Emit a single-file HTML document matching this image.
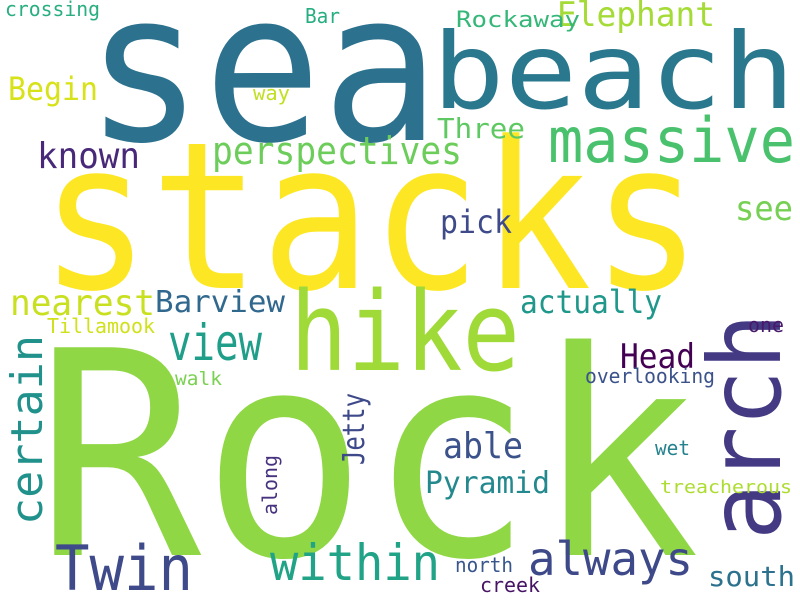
<!DOCTYPE html>
<html>
<head>
<meta charset="utf-8">
<style>
html,body{margin:0;padding:0;background:#fff;}
svg{display:block;}
text{font-family:"DejaVu Sans Mono","Liberation Mono",monospace;}
</style>
</head>
<body>
<svg id="cloud" width="800" height="600" viewBox="0 0 800 600" xmlns="http://www.w3.org/2000/svg">
<rect width="800" height="600" fill="#ffffff"/>
</svg>
<script>
const words = ["sea","stacks","Rock","beach","arch","hike","massive","Elephant","Rockaway","Bar","crossing","Begin","Three","known","perspectives","way","see","pick","nearest","Barview","actually","view","certain","Tillamook","one","Head","walk","overlooking","Jetty","able","wet","along","Pyramid","treacherous","Twin","within","always","north","creek","south"];
const sizes = [208,205,285,105,100,110,62,34,22,20,20,32,28,36,38,20,34,32,36,30,32,50,44,20,20,34,19,20,30,36,20,20,30,18,62,50,46,20,20,28];
const colors = ["#2c728e","#fde725","#8fd744","#2a788e","#443a83","#a0da39","#4ac16d","#a5db36","#35b779","#26ad81","#29af7f","#d8e219","#5ec962","#482878","#6ccd5a","#c2df23","#75d054","#3e4a89","#c8e020","#31688e","#1f988b","#1f9e89","#21918c","#d0e11c","#481a6c","#440154","#7ad151","#3b528b","#3e4989","#3b528b","#25838e","#46327e","#23898e","#addc30","#3e4a89","#20a386","#3e4989","#39568c","#471365","#2c728e"];
// layout: x, y (baseline start), width, rotation
const layout = [
[85,140,355,0],[40,288,662,0],[35,555,665,0],[432,108,363,0],[780,540,227,-90],[290,370,230,0],[548,162,247,0],[557,26,158,0],[456,27,124,0],[305,23,35,0],[5,16,95,0],[8,100,90,0],[437,138,88,0],[37,168,103,0],[212,164,250,0],[253,100,37,0],[735,220,58,0],[440,233,72,0],[10,315,145,0],[155,312,130,0],[520,313,142,0],[168,360,94,0],[42,525,190,-90],[47,333,108,0],[748,332,36,0],[620,368,75,0],[175,385,47,0],[585,383,130,0],[364,465,72,-90],[443,458,80,0],[655,455,35,0],[277,515,60,-90],[425,493,125,0],[660,493,132,0],[55,590,138,0],[270,580,170,0],[528,575,165,0],[455,572,58,0],[480,592,60,0],[708,586,87,0]
];
const svg = document.getElementById('cloud');
const NS = 'http://www.w3.org/2000/svg';
words.forEach((w,i)=>{
  const [x,y,wd,rot] = layout[i];
  const t = document.createElementNS(NS,'text');
  
  
  t.setAttribute('font-size', sizes[i]);
  t.setAttribute('fill', colors[i]);
  t.setAttribute('textLength', wd);
  t.setAttribute('lengthAdjust', 'spacingAndGlyphs');
  if (rot) {
    t.setAttribute('transform', 'translate(' + x + ',' + y + ') rotate(' + rot + ')');
  } else {
    t.setAttribute('x', x);
    t.setAttribute('y', y);
  }
  t.textContent = w;
  svg.appendChild(t);
});
</script>
</body>
</html>
